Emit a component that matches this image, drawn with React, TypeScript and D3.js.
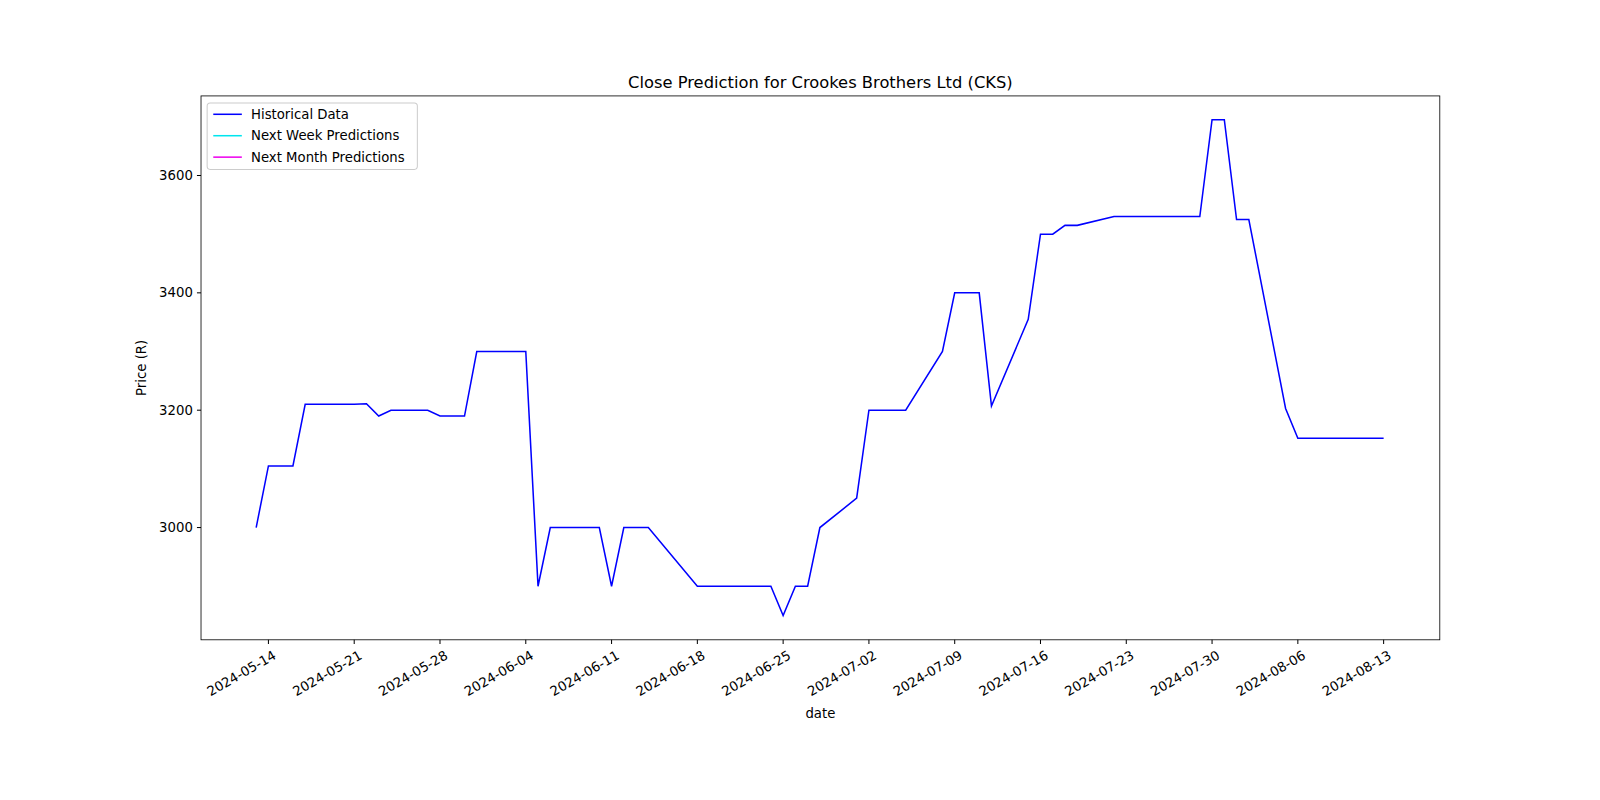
import React from "react";
import * as d3 from "d3";

const dates = ["2024-05-13","2024-05-14","2024-05-16","2024-05-17","2024-05-21","2024-05-22","2024-05-23","2024-05-24","2024-05-27","2024-05-28","2024-05-30","2024-05-31","2024-06-04","2024-06-05","2024-06-06","2024-06-10","2024-06-11","2024-06-12","2024-06-14","2024-06-18","2024-06-24","2024-06-25","2024-06-26","2024-06-27","2024-06-28","2024-07-01","2024-07-02","2024-07-05","2024-07-08","2024-07-09","2024-07-11","2024-07-12","2024-07-15","2024-07-16","2024-07-17","2024-07-18","2024-07-19","2024-07-22","2024-07-29","2024-07-30","2024-07-31","2024-08-01","2024-08-02","2024-08-05","2024-08-06","2024-08-13"];
const closes = [3000,3105,3105,3210,3210,3211,3190,3200,3200,3190,3190,3300,3300,2900,3000,3000,2900,3000,3000,2900,2900,2850,2900,2900,3000,3050,3200,3200,3300,3400,3400,3207,3355,3500,3500,3515,3515,3530,3530,3695,3695,3525,3525,3203,3152,3152];
const xTicks = ["2024-05-14","2024-05-21","2024-05-28","2024-06-04","2024-06-11","2024-06-18","2024-06-25","2024-07-02","2024-07-09","2024-07-16","2024-07-23","2024-07-30","2024-08-06","2024-08-13"];
const yTicks = [3000,3200,3400,3600];
const legendItems = [["Historical Data","#0000ff"],["Next Week Predictions","#00e5ee"],["Next Month Predictions","#ee00ee"]];

const parse = (s: string) => new Date(s + "T00:00:00Z");

export default function App() {
  const L = 197, R = 1411, T = 94, B = 627;
  const S = 1600 / 1568;
  const x = d3.scaleUtc().domain([new Date(Date.UTC(2024,4,8,12)), new Date(Date.UTC(2024,7,17,14))]).range([L, R]);
  const y = d3.scaleLinear().domain([2808.7, 3735.6]).range([B, T]);
  const line = d3.line<number>().x((_, i) => x(parse(dates[i]))).y(d => y(d));
  return (
    <svg width={1600} height={800} style={{position:"absolute",left:0,top:0,fontFamily:"DejaVu Sans"}}>
      <rect width={1600} height={800} fill="#fff"/>
      <g transform={`scale(${S})`}>
      <path d={line(closes)!} fill="none" stroke="#0000ff" strokeWidth={1.5}/>
      <rect x={L} y={T} width={R-L} height={B-T} fill="none" stroke="#000" strokeWidth={0.8}/>
      {yTicks.map(t => (
        <g key={t}>
          <line x1={L-4} x2={L} y1={y(t)} y2={y(t)} stroke="#000"/>
          <text x={L-8} y={y(t)} dy="0.35em" textAnchor="end" fontSize={13}>{t}</text>
        </g>
      ))}
      {xTicks.map(t => {
        const px = x(parse(t));
        return (
          <g key={t}>
            <line x1={px} x2={px} y1={B} y2={B+4} stroke="#000"/>
            <text transform={`translate(${px+4},${B+10}) rotate(-30)`} textAnchor="end" dy="0.7em" fontSize={13}>{t}</text>
          </g>
        );
      })}
      <text x={(L+R)/2} y={86} textAnchor="middle" fontSize={16}>Close Prediction for Crookes Brothers Ltd (CKS)</text>
      <text x={(L+R)/2} y={704} textAnchor="middle" fontSize={13}>date</text>
      <text transform={`translate(143,${(T+B)/2}) rotate(-90)`} textAnchor="middle" fontSize={13}>Price (R)</text>
      <rect x={203} y={101} width={206} height={65} fill="#fff" stroke="#ccc" rx={3}/>
      {legendItems.map(([n,c],i) => (
        <g key={n}>
          <line x1={209} x2={237} y1={112+i*21} y2={112+i*21} stroke={c} strokeWidth={1.5}/>
          <text x={246} y={112+i*21} dy="0.35em" fontSize={13}>{n}</text>
        </g>
      ))}
      </g>
    </svg>
  );
}
